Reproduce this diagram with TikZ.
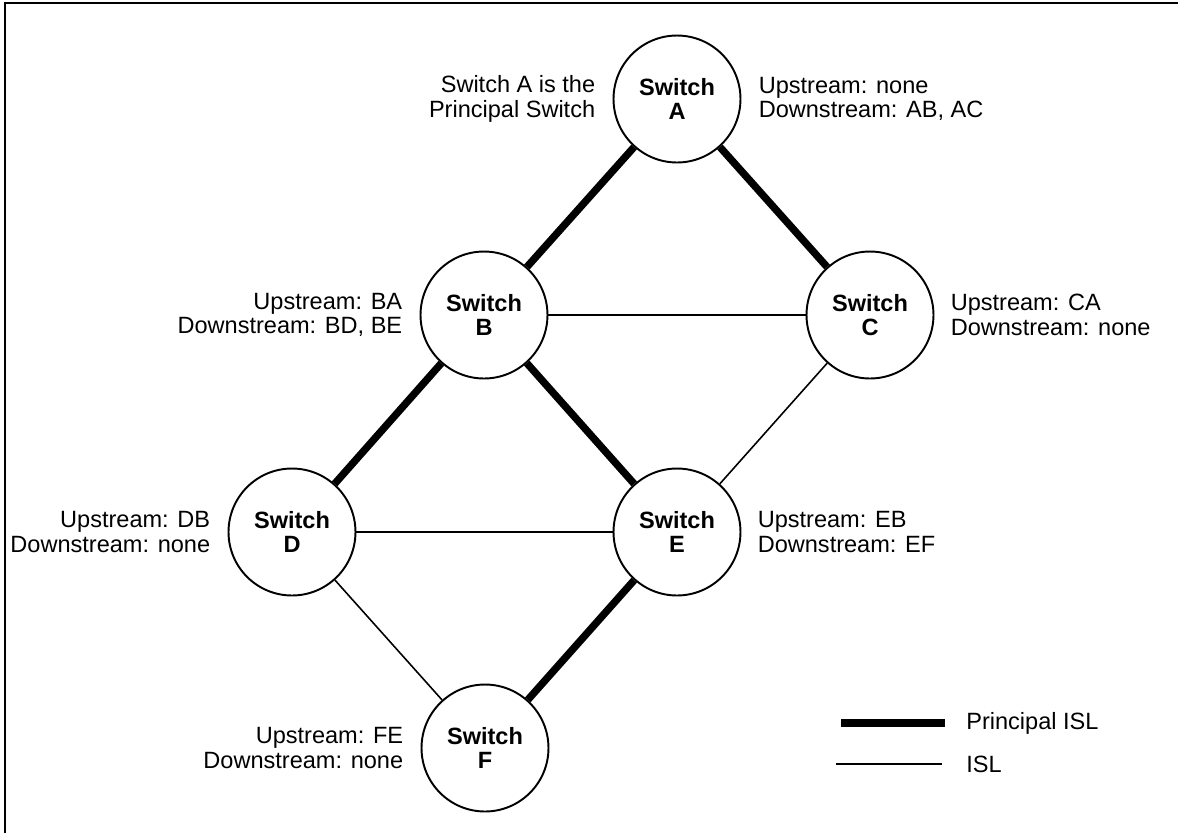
\documentclass[tikz,border=0pt]{standalone}
\usepackage{fontspec}
\setmainfont{Liberation Sans}
\usetikzlibrary{positioning}

\tikzset{
  switch/.style={draw, circle, line width=1.1pt, minimum size=2.54cm, inner sep=0pt,
    align=center, font=\fontsize{13.4}{13.8}\selectfont\bfseries},
  info/.style={inner sep=0pt, font=\fontsize{13.4}{13.8}\selectfont},
  principal/.style={line width=4.2pt},
  isl/.style={line width=0.9pt}
}

\begin{document}
\begin{tikzpicture}[x=0.02cm,y=-0.02cm]
                        \useasboundingbox (0,0) rectangle (1178,833);
                        \draw[line width=1.1pt] (5,833) -- (5,3) -- (1178,3);

                        \node[switch] (a) at (677,99) {Switch\\A};
                        \node[switch] (b) at (484,315) {Switch\\B};
                        \node[switch] (c) at (870,315) {Switch\\C};
                        \node[switch] (d) at (292,532) {Switch\\D};
                        \node[switch] (e) at (677,532) {Switch\\E};
                        \node[switch] (f) at (485,748) {Switch\\F};

                        \node[info, align=right, left=0.34cm of a] (alab) {Switch A is the\\Principal Switch};
                        \node[info, align=left, right=0.34cm of a] (ainfo) {Upstream: none\\Downstream: AB, AC};
                        \node[info, align=right, left=0.34cm of b] (binfo) {Upstream: BA\\Downstream: BD, BE};
                        \node[info, align=left, right=0.32cm of c] (cinfo) {Upstream: CA\\Downstream: none};
                        \node[info, align=right, left=0.34cm of d] (dinfo) {Upstream: DB\\Downstream: none};
                        \node[info, align=left, right=0.32cm of e] (einfo) {Upstream: EB\\Downstream: EF};
                        \node[info, align=right, left=0.34cm of f] (finfo) {Upstream: FE\\Downstream: none};

                        \draw[principal] (a) -- (b);
                        \draw[principal] (a) -- (c);
                        \draw[principal] (b) -- (d);
                        \draw[principal] (b) -- (e);
                        \draw[principal] (e) -- (f);
                        \draw[isl] (b) -- (c);
                        \draw[isl] (c) -- (e);
                        \draw[isl] (d) -- (e);
                        \draw[isl] (d) -- (f);

                        \coordinate (pstart) at (841,723);
                        \coordinate (pend) at (945,723);
                        \coordinate (istart) at (836,764);
                        \coordinate (iend) at (942,764);
                        \draw[principal] (pstart) -- (pend);
                        \draw[isl] (istart) -- (iend);
                        \node[info, anchor=west] (plegend) at (966,723) {Principal ISL};
                        \node[info, anchor=west] (ilegend) at (966,764) {ISL};
                    \end{tikzpicture}
\end{document}
